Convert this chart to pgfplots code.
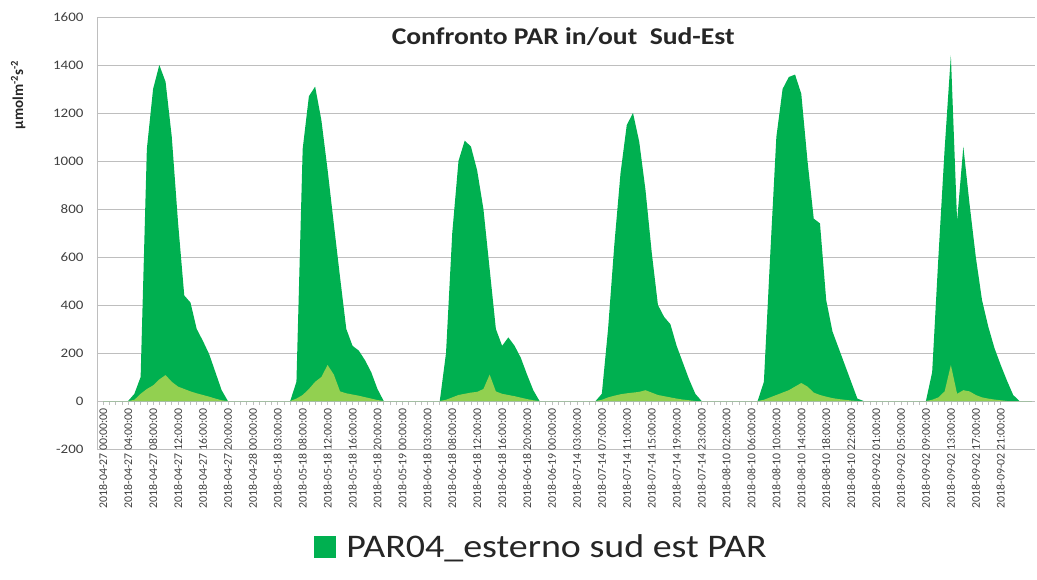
\documentclass[border=0pt]{standalone}
\usepackage{fontspec}
\setmainfont{Carlito}[FakeStretch=1.15]
\newfontfamily\plainfont{Carlito}
\usepackage{pgfplots}
\pgfplotsset{compat=1.18}
\definecolor{pardark}{RGB}{0,176,80}
\definecolor{parlight}{RGB}{146,208,80}
\definecolor{gridgray}{RGB}{190,190,190}
\definecolor{labelgray}{RGB}{64,64,64}

\begin{document}
\begin{tikzpicture}
\begin{axis}[
    scale only axis,
    width=938bp, height=432bp,
    xmin=-1, xmax=149.5,
    ymin=-200, ymax=1600,
    axis x line*=middle,
    axis y line*=left,
    hide obscured x ticks=false,
    hide obscured y ticks=false,
    x axis line style={gridgray, line width=0.8bp},
    y axis line style={gridgray, line width=0.8bp},
    ytick={-200,0,200,400,600,800,1000,1200,1400,1600},
    ymajorgrids,
    grid style={gridgray, line width=0.9bp},
    ytick style={draw=none},
    yticklabel style={font=\fontsize{13bp}{15bp}\selectfont, text=labelgray, xshift=-6bp},
    /pgf/number format/assume math mode=true,
    /pgf/number format/1000 sep={},
    xtick={0,4,...,144},
    minor x tick num=3,
    xtick style={gridgray, line width=0.6bp},
    tick align=outside,
    major tick length=4bp,
    minor tick length=4bp,
    xticklabels={2018-04-27 00:00:00, 2018-04-27 04:00:00, 2018-04-27 08:00:00, 2018-04-27 12:00:00, 2018-04-27 16:00:00, 2018-04-27 20:00:00, 2018-04-28 00:00:00, 2018-05-18 03:00:00, 2018-05-18 08:00:00, 2018-05-18 12:00:00, 2018-05-18 16:00:00, 2018-05-18 20:00:00, 2018-05-19 00:00:00, 2018-06-18 03:00:00, 2018-06-18 08:00:00, 2018-06-18 12:00:00, 2018-06-18 16:00:00, 2018-06-18 20:00:00, 2018-06-19 00:00:00, 2018-07-14 03:00:00, 2018-07-14 07:00:00, 2018-07-14 11:00:00, 2018-07-14 15:00:00, 2018-07-14 19:00:00, 2018-07-14 23:00:00, 2018-08-10 02:00:00, 2018-08-10 06:00:00, 2018-08-10 10:00:00, 2018-08-10 14:00:00, 2018-08-10 18:00:00, 2018-08-10 22:00:00, 2018-09-02 01:00:00, 2018-09-02 05:00:00, 2018-09-02 09:00:00, 2018-09-02 13:00:00, 2018-09-02 17:00:00, 2018-09-02 21:00:00},
    xticklabel style={rotate=90, anchor=east, font=\plainfont\fontsize{11.8bp}{12bp}\selectfont, text=labelgray},
    title={Confronto PAR in/out\ \ Sud-Est},
    title style={at={(axis description cs:0.497,0.94)}, anchor=center, font=\fontsize{24bp}{28bp}\selectfont\bfseries, text=black!85},
    ylabel={µmolm\textsuperscript{-2}s\textsuperscript{-2}},
    ylabel style={at={(axis description cs:-0.084,0.82)}, anchor=center, font=\plainfont\bfseries\fontsize{15bp}{18bp}\selectfont, text=black!85},
    legend style={at={(axis description cs:0.474,-0.227)}, anchor=center, draw=none, fill=none, font=\fontsize{33bp}{36bp}\selectfont, text=black!85},
    legend image code/.code={\fill[pardark] (0bp,-11bp) rectangle (22bp,11bp); \path (30bp,0bp);},
]
% esterno (outside)
\addplot[fill=pardark, draw=none] coordinates {
    (0,0) (4,0)
    (5,30) (6,100) (7,1050) (8,1300) (9,1400) (10,1330) (11,1100) (12,745)
    (13,440) (14,410) (15,300) (16,250) (17,195) (18,120) (19,45) (20,0)
    (30,0) (31,80) (32,1050) (33,1270) (34,1310) (35,1170) (36,963) (37,737)
    (38,515) (39,300) (40,230) (41,210) (42,170) (43,120) (44,50) (45,0)
    (54,0) (55,200) (56,700) (57,1000) (58,1085) (59,1060) (60,960) (61,800)
    (62,550) (63,300) (64,230) (65,265) (66,230) (67,180) (68,110) (69,45) (70,0)
    (79,0) (80,30) (81,300) (82,650) (83,950) (84,1150) (85,1200) (86,1080)
    (87,880) (88,620) (89,400) (90,350) (91,320) (92,230) (93,160) (94,90) (95,30) (96,0)
    (105,0) (106,80) (107,600) (108,1100) (109,1300) (110,1350) (111,1360) (112,1280)
    (113,1000) (114,760) (115,740) (116,420) (117,290) (118,220) (119,150) (120,80) (121,10) (122,0)
    (132,0) (133,120) (134,600) (135,1050) (136,1440) (137,750) (138,1060) (139,820)
    (140,600) (141,420) (142,310) (143,220) (144,150) (145,85) (146,25) (147,0)
    (149,0)
} \closedcycle;
\addlegendentry{PAR04\_esterno sud est PAR}
% interno (inside)
\addplot[fill=parlight, draw=none, forget plot] coordinates {
    (0,0) (4,0)
    (5,5) (6,30) (7,50) (8,65) (9,90) (10,108) (11,80) (12,60)
    (13,50) (14,40) (15,32) (16,25) (17,18) (18,10) (19,3) (20,0)
    (30,0) (31,10) (32,25) (33,50) (34,80) (35,100) (36,150) (37,110)
    (38,40) (39,32) (40,27) (41,22) (42,16) (43,10) (44,4) (45,0)
    (54,0) (55,5) (56,15) (57,25) (58,30) (59,35) (60,38) (61,50)
    (62,110) (63,40) (64,30) (65,25) (66,20) (67,14) (68,8) (69,3) (70,0)
    (79,0) (80,5) (81,15) (82,22) (83,28) (84,32) (85,35) (86,38)
    (87,45) (88,35) (89,25) (90,20) (91,15) (92,10) (93,6) (94,3) (95,0)
    (105,0) (106,5) (107,15) (108,25) (109,35) (110,45) (111,60) (112,75)
    (113,60) (114,35) (115,25) (116,18) (117,12) (118,8) (119,5) (120,2) (121,0)
    (132,0) (133,5) (134,15) (135,40) (136,150) (137,30) (138,45) (139,40)
    (140,25) (141,15) (142,10) (143,6) (144,3) (145,0)
    (149,0)
} \closedcycle;
\coordinate (sw) at (rel axis cs:0,0);
\end{axis}
\path (sw) ++(-97bp,-131bp) rectangle ++(1037bp,580bp);
\end{tikzpicture}
\end{document}
